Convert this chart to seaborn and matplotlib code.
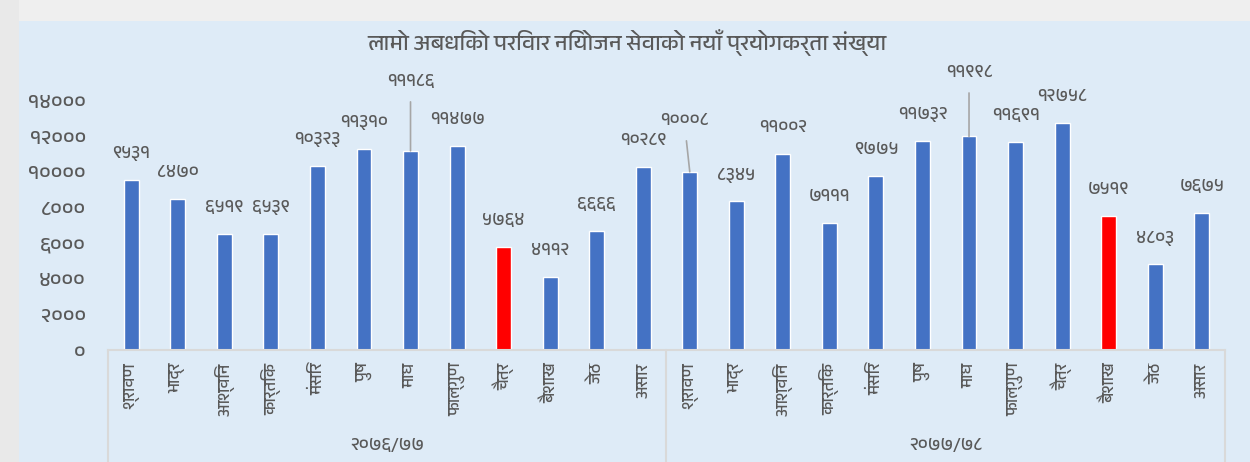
import matplotlib
matplotlib.use("Agg")
import matplotlib.pyplot as plt
from matplotlib import font_manager
from matplotlib.ft2font import FT2Font
from matplotlib.lines import Line2D
from matplotlib.patches import Rectangle
import seaborn as sns
import pandas as pd

# डाटा
years = ["२०७६/७७", "२०७७/७८"]
months = ["श्रावण", "भाद्र", "आश्विन", "कार्तिक", "मंसिर", "पुष", "माघ",
          "फाल्गुण", "चैत्र", "बैशाख", "जेठ", "असार"]
values_7677 = [9531, 8470, 6519, 6539, 10323, 11310, 11186, 11477, 5764, 4112, 6666, 10289]
values_7778 = [10008, 8345, 11002, 7111, 9775, 11732, 11998, 11691, 12758, 7519, 4803, 7675]
highlighted = [("२०७६/७७", "चैत्र"), ("२०७७/७८", "बैशाख")]
yticks = [0, 2000, 4000, 6000, 8000, 10000, 12000, 14000]
title = "लामो अबधिको परिवार नियोजन सेवाको नयाँ प्रयोगकर्ता संख्या"

# labels pulled up with a leader line (offset in points)
leaders = {("२०७६/७७", "माघ"): (0, 50), ("२०७७/७८", "श्रावण"): (-4, 37),
           ("२०७७/७८", "माघ"): (0, 46)}

BLUE = "#4472C4"
RED = "#FF0000"
TXT = "#595959"
BG = "#DEEBF7"


def find_devanagari():
    cands = []
    for f in font_manager.fontManager.ttflist:
        try:
            cmap = FT2Font(f.fname).get_charmap()
        except Exception:
            continue
        if 0x0915 in cmap and 0x0966 in cmap:
            cands.append(f.name)
    cands.sort(key=lambda n: ("Devanagari" not in n, n))
    return cands[0] if cands else None


sns.set_style("white")
deva = find_devanagari()
fams = [deva, "DejaVu Sans"] if deva else ["DejaVu Sans"]
plt.rcParams["font.family"] = fams

to_deva = str.maketrans("0123456789", "०१२३४५६७८९")

rows = []
for yr, vals in zip(years, [values_7677, values_7778]):
    for m, v in zip(months, vals):
        rows.append({"key": yr + "|" + m, "year": yr, "month": m, "value": v})
df = pd.DataFrame(rows)
colors = [RED if (r.year, r.month) in highlighted else BLUE for r in df.itertuples()]

fig = plt.figure(figsize=(12.5, 4.62), dpi=100, facecolor=BG)
# grey frame strips like the screenshot
fig.patches.append(Rectangle((0, 1 - 21 / 462), 1, 21 / 462, transform=fig.transFigure,
                             facecolor="#EFEFEF", edgecolor="none", zorder=0))
fig.patches.append(Rectangle((0, 0), 19 / 1250, 1, transform=fig.transFigure,
                             facecolor="#E9E9E9", edgecolor="none", zorder=0))

L, R = 108 / 1250, 1225 / 1250
B, T = 1 - 350 / 462, 1 - 100.7 / 462
ax = fig.add_axes([L, B, R - L, T - B])
ax.set_facecolor(BG)

sns.barplot(data=df, x="key", y="value", hue="key", palette=colors, legend=False,
            width=0.32, saturation=1, ax=ax)

ax.set_ylim(0, 14000)
ax.set_xlim(-0.5, len(df) - 0.5)
ax.set_yticks(yticks)
ax.set_yticklabels([str(t).translate(to_deva) for t in yticks], fontsize=15, color=TXT)
ax.tick_params(axis="y", length=0, pad=16)
ax.set_xticks(range(len(df)))
ax.set_xticklabels(df["month"], rotation=90, fontsize=12, color=TXT, va="top",
                   fontweight="light")
ax.tick_params(axis="x", length=0, pad=9)
ax.set_xlabel("")
ax.set_ylabel("")
for s in ["top", "right", "left"]:
    ax.spines[s].set_visible(False)
ax.spines["bottom"].set_color("#D9D9D9")
ax.spines["bottom"].set_linewidth(1.5)

# value labels
for i, r in enumerate(df.itertuples()):
    txt = str(r.value).translate(to_deva)
    if (r.year, r.month) in leaders:
        dx, dy = leaders[(r.year, r.month)]
        ax.annotate(txt, (i, r.value), xytext=(dx, dy), textcoords="offset points",
                    ha="center", va="center", fontsize=13, color=TXT, annotation_clip=False,
                    arrowprops=dict(arrowstyle="-", color="#A6A6A6", lw=1.2,
                                    shrinkA=7, shrinkB=0))
    else:
        ax.annotate(txt, (i, r.value), xytext=(0, 19), textcoords="offset points",
                    ha="center", va="center", fontsize=13, color=TXT, annotation_clip=False)

# group separators and year labels under the axis
n = len(months)
for k in range(len(years) + 1):
    x = L + (R - L) * k * n / len(df)
    fig.add_artist(Line2D([x, x], [0, B], transform=fig.transFigure, color="#D9D9D9", lw=1.5))
for k, yr in enumerate(years):
    xc = L + (R - L) * (k + 0.5) * n / len(df)
    fig.text(xc, 1 - 445 / 462, yr, ha="center", va="center", fontsize=13, color=TXT,
             fontweight="light")

fig.text(627 / 1250, 1 - 43 / 462, title, ha="center", va="center", fontsize=16,
         color=TXT, fontweight="light")

fig.savefig("out.png", dpi=100, facecolor=fig.get_facecolor())
